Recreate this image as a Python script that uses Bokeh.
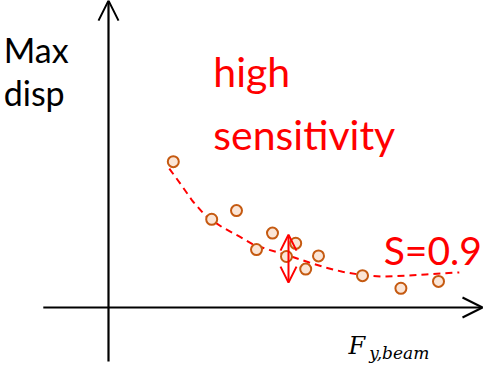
from bokeh.plotting import figure
from bokeh.models import Range1d, Arrow, OpenHead, Label, ColumnDataSource
from bokeh.embed import file_html
from bokeh.resources import INLINE

# Data (schematic units: origin at axes crossing)
pts_x = [1.62, 2.58, 3.20, 4.10, 3.70, 4.68, 4.45, 5.25, 4.93, 6.35, 7.31, 8.25]
pts_y = [4.86, 2.94, 3.23, 2.48, 1.93, 2.14, 1.70, 1.72, 1.28, 1.06, 0.64, 0.87]

fit_x = [1.52, 1.80, 2.10, 2.43, 2.85, 3.27, 3.60, 4.02, 4.52, 5.02, 5.43, 5.85, 6.35, 6.85, 7.43, 7.93, 8.77]
fit_y = [4.63, 4.12, 3.55, 3.05, 2.67, 2.37, 2.11, 1.92, 1.72, 1.50, 1.33, 1.19, 1.08, 1.03, 1.06, 1.10, 1.17]

sens_x = 4.5
sens_y = [2.43, 0.83]

x_axis_span = [-1.63, 9.35]
y_axis_span = [-1.80, 10.23]

p = figure(width=486, height=363, output_backend="svg", toolbar_location=None,
           x_range=Range1d(-2.7, 9.45), y_range=Range1d(-1.867, 10.233),
           min_border=0)
p.axis.visible = False
p.grid.visible = False
p.outline_line_color = None
p.background_fill_color = "white"

black = "#000000"
red = "#FF0000"

# axes arrows
p.add_layout(Arrow(end=OpenHead(size=20, line_width=2, line_color=black),
                   x_start=x_axis_span[0], y_start=0, x_end=x_axis_span[1], y_end=0,
                   line_width=2.2, line_color=black))
p.add_layout(Arrow(end=OpenHead(size=20, line_width=2, line_color=black),
                   x_start=0, y_start=y_axis_span[0], x_end=0, y_end=y_axis_span[1],
                   line_width=2.2, line_color=black))

# fitted dashed curve
p.line(fit_x, fit_y, line_color=red, line_width=2, line_dash="7 5")

# points
src = ColumnDataSource(dict(x=pts_x, y=pts_y))
p.scatter("x", "y", source=src, size=11, fill_color="#FBE5D6",
          line_color="#C55A11", line_width=2)

# sensitivity double arrow
p.add_layout(Arrow(start=OpenHead(size=16, line_width=2, line_color=red),
                   end=OpenHead(size=16, line_width=2, line_color=red),
                   x_start=sens_x, y_start=sens_y[0], x_end=sens_x, y_end=sens_y[1],
                   line_width=2, line_color=red))

def lab(x, y, t, size, color, font="Lato", style="normal"):
    p.add_layout(Label(x=x, y=y, text=t, text_font=font, text_font_size=size,
                       text_color=color, text_baseline="alphabetic",
                       text_align="left", text_font_style=style))

lab(-2.62, 8.6, "Max", "34px", black)
lab(-2.62, 7.167, "disp", "34px", black)
lab(2.62, 7.867, "high", "41px", red)
lab(2.62, 5.777, "sensitivity", "41px", red)
lab(6.88, 1.9, "S=0.9", "39px", red)
lab(6.0, -1.30, "F", "24px", black, font="DejaVu Serif", style="italic")
lab(6.52, -1.52, "y,beam", "17px", black, font="DejaVu Serif", style="italic")

open("out.html", "w").write(file_html(p, INLINE))
